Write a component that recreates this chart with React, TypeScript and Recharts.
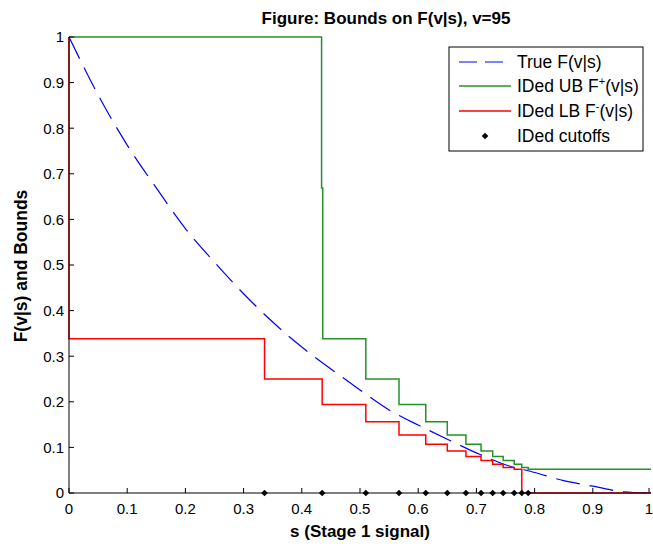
import React from "react";
import { ComposedChart, Line, Scatter, XAxis, YAxis, Customized } from "recharts";

// true F(v|s)
const trueS = [0, 0.05, 0.1, 0.15, 0.2, 0.25, 0.3, 0.35, 0.4, 0.45, 0.5, 0.55, 0.6, 0.65, 0.7, 0.75, 0.8, 0.85, 0.9, 0.95, 1];
const trueF = [1, 0.873, 0.763, 0.669, 0.58, 0.506, 0.437, 0.375, 0.32, 0.272, 0.226, 0.182, 0.149, 0.118, 0.088, 0.062, 0.045, 0.027, 0.015, 0.003, 0];

// identified upper bound F+(v|s), step function
const upperS = [0, 0.434, 0.436, 0.51, 0.567, 0.613, 0.65, 0.682, 0.708, 0.728, 0.746, 0.765, 0.778, 0.789, 1];
const upperF = [1, 0.669, 0.338, 0.25, 0.194, 0.156, 0.127, 0.107, 0.092, 0.08, 0.071, 0.063, 0.056, 0.052, 0.052];

// identified lower bound F-(v|s), step function
const lowerS = [0, 0, 0.336, 0.435, 0.51, 0.567, 0.613, 0.65, 0.682, 0.708, 0.728, 0.746, 0.765, 0.778, 1];
const lowerF = [1, 0.338, 0.25, 0.194, 0.156, 0.127, 0.107, 0.092, 0.08, 0.071, 0.063, 0.056, 0.052, 0, 0];

// identified cutoffs (plotted on the s axis)
const cutoffS = [0.336, 0.435, 0.51, 0.567, 0.613, 0.65, 0.682, 0.708, 0.728, 0.746, 0.765, 0.778, 0.789];

const axisTicks = [0, 0.1, 0.2, 0.3, 0.4, 0.5, 0.6, 0.7, 0.8, 0.9, 1];

const toPoints = (s: number[], f: number[]) => s.map((v, i) => ({ s: v, f: f[i] }));

const trueData = toPoints(trueS, trueF);
const upperData = toPoints(upperS, upperF);
const lowerData = toPoints(lowerS, lowerF);
const cutoffData = cutoffS.map((v) => ({ s: v, f: 0 }));

const FONT = "'Liberation Sans', Arial, sans-serif";
const TICK = 5;
const GREEN = "#23912a";

const BottomTick = (props: any) => {
  const { x, y, payload } = props;
  return (
    <g>
      <line x1={x} y1={y} x2={x} y2={y - TICK} stroke="#000" />
      <text x={x} y={y + 21} textAnchor="middle" fontSize={15} fontFamily={FONT} fill="#000">
        {String(payload.value)}
      </text>
    </g>
  );
};

const TopTick = (props: any) => {
  const { x, y } = props;
  return <line x1={x} y1={y} x2={x} y2={y + TICK} stroke="#000" />;
};

const LeftTick = (props: any) => {
  const { x, y, payload } = props;
  return (
    <g>
      <line x1={x} y1={y} x2={x + TICK} y2={y} stroke="#000" />
      <text x={x - 5} y={y} dy="0.36em" textAnchor="end" fontSize={15} fontFamily={FONT} fill="#000">
        {String(payload.value)}
      </text>
    </g>
  );
};

const RightTick = (props: any) => {
  const { x, y } = props;
  return <line x1={x} y1={y} x2={x - TICK} y2={y} stroke="#000" />;
};

const Diamond = (props: any) => {
  const { cx, cy } = props;
  const r = 3.3;
  return <polygon points={`${cx},${cy - r} ${cx + r},${cy} ${cx},${cy + r} ${cx - r},${cy}`} fill="#000" />;
};

const Sup = ({ children }: { children: string }) => (
  <tspan dy={-7} fontSize={11}>
    {children}
  </tspan>
);

const Decorations = () => {
  const lx = 449;
  const ly = 47;
  const rows = [15, 39, 64, 89];
  const textStyle = { fontSize: 17.5, fontFamily: FONT, fill: "#000" };
  return (
    <g>
      <text x={386} y={24} textAnchor="middle" fontSize={17} fontWeight="bold" fontFamily={FONT} fill="#000">
        Figure: Bounds on F(v|s), v=95
      </text>
      <text x={360} y={537} textAnchor="middle" fontSize={17} fontWeight="bold" fontFamily={FONT} fill="#000">
        s (Stage 1 signal)
      </text>
      <text
        transform="translate(27,266) rotate(-90)"
        textAnchor="middle"
        fontSize={17.5}
        fontWeight="bold"
        fontFamily={FONT}
        fill="#000"
      >
        F(v|s) and Bounds
      </text>

      <rect x={lx} y={ly} width={194} height={104} fill="#fff" stroke="#000" />
      <line x1={lx + 10} x2={lx + 62} y1={ly + rows[0]} y2={ly + rows[0]} stroke="#0000ff" strokeDasharray="18 8" />
      <line x1={lx + 10} x2={lx + 62} y1={ly + rows[1]} y2={ly + rows[1]} stroke={GREEN} strokeWidth={1.5} />
      <line x1={lx + 10} x2={lx + 62} y1={ly + rows[2]} y2={ly + rows[2]} stroke="#ff0000" strokeWidth={1.5} />
      <Diamond cx={lx + 36} cy={ly + rows[3]} />
      <text x={lx + 68} y={ly + rows[0]} dy="0.36em" {...textStyle}>
        True F(v|s)
      </text>
      <text x={lx + 68} y={ly + rows[1]} dy="0.36em" {...textStyle}>
        IDed UB F<Sup>+</Sup>
        <tspan dy={7}>(v|s)</tspan>
      </text>
      <text x={lx + 68} y={ly + rows[2]} dy="0.36em" {...textStyle}>
        IDed LB F<Sup>-</Sup>
        <tspan dy={7}>(v|s)</tspan>
      </text>
      <text x={lx + 68} y={ly + rows[3]} dy="0.36em" {...textStyle}>
        IDed cutoffs
      </text>
    </g>
  );
};

const App: React.FC = () => {
  return (
    <div style={{ position: "absolute", left: 0, top: 0, background: "#fff" }}>
      <ComposedChart width={653} height={546} margin={{ top: 37, right: 2, bottom: 0, left: 0 }}>
        <XAxis
          dataKey="s"
          type="number"
          domain={[0, 1]}
          ticks={axisTicks}
          height={53}
          tickSize={0}
          tickMargin={0}
          tickLine={false}
          tick={<BottomTick />}
          axisLine={{ stroke: "#000" }}
        />
        <XAxis
          xAxisId="top"
          orientation="top"
          dataKey="s"
          type="number"
          domain={[0, 1]}
          ticks={axisTicks}
          height={0}
          tickSize={0}
          tickMargin={0}
          tickLine={false}
          tick={<TopTick />}
          axisLine={{ stroke: "#000" }}
        />
        <YAxis
          type="number"
          domain={[0, 1]}
          ticks={axisTicks}
          width={69}
          tickSize={0}
          tickMargin={0}
          tickLine={false}
          tick={<LeftTick />}
          axisLine={{ stroke: "#000" }}
        />
        <YAxis
          yAxisId="right"
          orientation="right"
          type="number"
          domain={[0, 1]}
          ticks={axisTicks}
          width={0}
          tickSize={0}
          tickMargin={0}
          tickLine={false}
          tick={<RightTick />}
          axisLine={{ stroke: "#000" }}
        />
        <Line
          data={trueData}
          dataKey="f"
          type="monotone"
          stroke="#0000ff"
          strokeWidth={1.2}
          strokeDasharray="24 10"
          dot={false}
          isAnimationActive={false}
        />
        <Line
          data={upperData}
          dataKey="f"
          type="stepAfter"
          stroke={GREEN}
          strokeWidth={1.5}
          dot={false}
          isAnimationActive={false}
        />
        <Line
          data={lowerData}
          dataKey="f"
          type="stepAfter"
          stroke="#ff0000"
          strokeWidth={1.5}
          dot={false}
          isAnimationActive={false}
        />
        <Scatter data={cutoffData} dataKey="f" shape={<Diamond />} isAnimationActive={false} />
        <Customized component={<Decorations />} />
      </ComposedChart>
    </div>
  );
};

export default App;
